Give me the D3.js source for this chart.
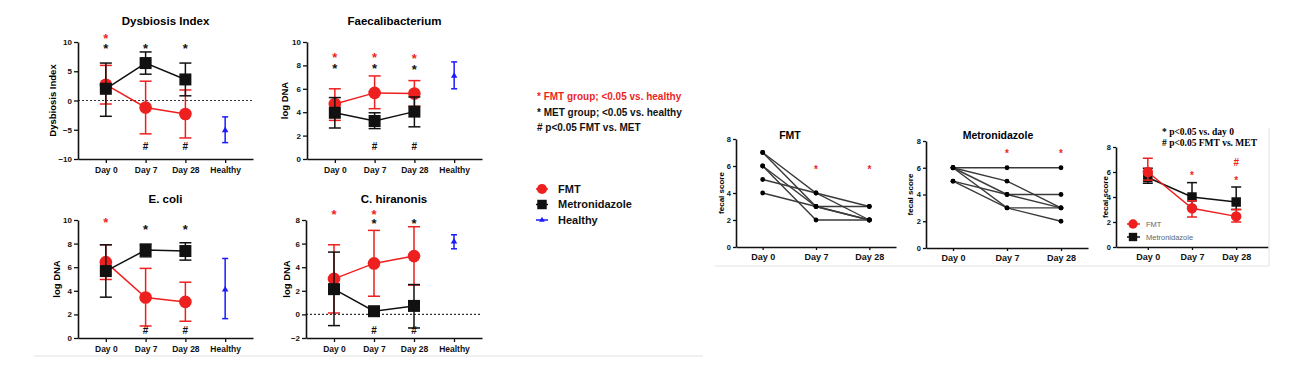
<!DOCTYPE html>
<html>
<head>
<meta charset="utf-8">
<script src="https://cdn.jsdelivr.net/npm/d3@7"></script>
<style>
body { margin: 0; background: #fff; }
svg text { font-family: "Liberation Sans", Arial, sans-serif; }
</style>
</head>
<body>
<script>
// ---- data ----
const leftCats = ['Day 0', 'Day 7', 'Day 28', 'Healthy'];
const days = ['Day 0', 'Day 7', 'Day 28'];

// each entry: [mean, lower, upper]
const dysFMT = [[2.7, -0.6, 6.0], [-1.2, -5.7, 3.3], [-2.3, -6.4, 1.8]];
const dysMET = [[2.0, -2.7, 6.4], [6.4, 4.5, 8.3], [3.6, 0.8, 6.4]];
const dysHealthy = [-5.1, -7.2, -2.8];

const faeFMT = [[4.7, 3.3, 6.0], [5.65, 4.3, 7.1], [5.6, 4.5, 6.7]];
const faeMET = [[3.95, 2.65, 5.25], [3.25, 2.6, 3.95], [4.05, 2.75, 5.3]];
const faeHealthy = [7.1, 6.0, 8.3];

const ecoFMT = [[6.43, 4.96, 7.9], [3.43, 1.02, 5.9], [3.06, 1.42, 4.73]];
const ecoMET = [[5.67, 3.46, 7.9], [7.45, 6.88, 7.96], [7.37, 6.6, 8.07]];
const ecoHealthy = [4.1, 1.64, 6.74];

const chiFMT = [[3.01, 0.12, 5.9], [4.32, 1.54, 7.12], [4.94, 2.48, 7.43]];
const chiMET = [[2.14, -0.95, 5.28], [0.27, 0.15, 0.4], [0.72, -1.15, 2.53]];
const chiHealthy = [6.16, 5.56, 6.75];

// significance marks: [category, y value, symbol, colour group]
const dysMarks = [['Day 0', 11.1, '*', 'fmt'], ['Day 0', 9.3, '*', 'met'], ['Day 7', 9.3, '*', 'met'], ['Day 28', 9.3, '*', 'met'], ['Day 7', -7.9, '#', 'met'], ['Day 28', -7.9, '#', 'met']];
const faeMarks = [['Day 0', 8.9, '*', 'fmt'], ['Day 7', 8.9, '*', 'fmt'], ['Day 28', 8.8, '*', 'fmt'], ['Day 0', 8.0, '*', 'met'], ['Day 7', 7.95, '*', 'met'], ['Day 28', 7.85, '*', 'met'], ['Day 7', 1.05, '#', 'met'], ['Day 28', 1.05, '#', 'met']];
const ecoMarks = [['Day 0', 10.06, '*', 'fmt'], ['Day 7', 9.4, '*', 'met'], ['Day 28', 9.4, '*', 'met'], ['Day 7', 0.65, '#', 'met'], ['Day 28', 0.65, '#', 'met']];
const chiMarks = [['Day 0', 8.7, '*', 'fmt'], ['Day 7', 8.7, '*', 'fmt'], ['Day 7', 7.95, '*', 'met'], ['Day 28', 7.95, '*', 'met'], ['Day 7', -1.35, '#', 'met'], ['Day 28', -1.35, '#', 'met']];

// fecal scores per dog (Day 0, Day 7, Day 28)
const fmtDogs = [[7, 4, 3], [7, 3, 2], [6, 3, 3], [6, 2, 2], [5, 4, 2], [4, 3, 2]];
const metDogs = [[6, 6, 6], [6, 5, 3], [6, 4, 4], [6, 3, 2], [5, 4, 3], [5, 3, 3]];
const fmtDogMarks = [['Day 7', 5.9, '*'], ['Day 28', 5.9, '*']];
const metDogMarks = [['Day 7', 7.2, '*'], ['Day 28', 7.2, '*']];

// fecal score summary: [mean, lower, upper]
const sumFMT = [[6.0, 5.35, 7.1], [3.1, 2.4, 3.7], [2.45, 2.0, 3.0]];
const sumMET = [[5.56, 5.1, 6.3], [4.0, 3.2, 5.15], [3.6, 3.0, 4.8]];
const sumMarks = [['Day 7', 5.9, '*'], ['Day 28', 6.75, '#'], ['Day 28', 5.5, '*']];

const legendNotes = ['* FMT group; <0.05 vs. healthy', '* MET group; <0.05 vs. healthy', '# p<0.05 FMT vs. MET'];
const legendGroups = ['FMT', 'Metronidazole', 'Healthy'];

// ---- drawing ----
const RED = '#ee1f1f', BLACK = '#111', BLUE = '#1a1aff';

const svg = d3.select('body').append('svg').attr('width', 1298).attr('height', 372);

function styleAxis(g, fs) {
  g.selectAll('.domain').attr('stroke', '#111').attr('stroke-width', 1.6);
  g.selectAll('.tick line').attr('stroke', '#111').attr('stroke-width', 1.3);
  g.selectAll('.tick text').attr('fill', '#111').attr('font-weight', 'bold').attr('font-size', fs)
    .style('font-family', '"Liberation Sans", Arial, sans-serif');
}

function addMark(g, cx, cy, sym, color, big, hashSize) {
  g.append('text')
    .attr('x', cx).attr('y', cy)
    .attr('dy', sym === '*' ? '0.56em' : '0.36em')
    .attr('text-anchor', 'middle')
    .attr('font-size', sym === '*' ? big : (hashSize || big - 3))
    .attr('font-weight', 'bold')
    .attr('fill', color)
    .text(sym);
}

function errGroup(g, x, y, vals, color, shape, size, cap) {
  g.append('path')
    .attr('d', d3.line().x((d, i) => x(days[i])).y(d => y(d[0]))(vals))
    .attr('fill', 'none').attr('stroke', color).attr('stroke-width', 1.5);
  vals.forEach((v, i) => {
    const cx = x(days[i]);
    g.append('line').attr('x1', cx).attr('x2', cx).attr('y1', y(v[1])).attr('y2', y(v[2]))
      .attr('stroke', color).attr('stroke-width', 1.5);
    [v[1], v[2]].forEach(e => {
      g.append('line').attr('x1', cx - cap).attr('x2', cx + cap).attr('y1', y(e)).attr('y2', y(e))
        .attr('stroke', color).attr('stroke-width', 1.5);
    });
    g.append('path')
      .attr('transform', 'translate(' + cx + ',' + y(v[0]) + ')')
      .attr('d', d3.symbol().type(shape).size(size)())
      .attr('fill', color);
  });
}

function leftPanel(p) {
  const g = svg.append('g');
  const x = d3.scalePoint().domain(leftCats).range([p.x0, p.x1]).padding(0.7);
  const y = d3.scaleLinear().domain(p.dom).range([p.yBot, p.yTop]);

  g.append('text').attr('x', (p.x0 + p.x1) / 2).attr('y', p.titleY)
    .attr('text-anchor', 'middle').attr('font-size', 11.5).attr('font-weight', 'bold').text(p.title);

  g.append('text')
    .attr('transform', 'translate(' + p.ylabX + ',' + (p.yTop + p.yBot) / 2 + ') rotate(-90)')
    .attr('text-anchor', 'middle').attr('dy', '0.35em')
    .attr('font-size', 9.5).attr('font-weight', 'bold').text(p.ylab);

  if (p.zero) {
    g.append('line').attr('x1', p.x0).attr('x2', p.x1).attr('y1', y(0)).attr('y2', y(0))
      .attr('stroke', '#333').attr('stroke-width', 1.2).attr('stroke-dasharray', '2,2');
  }

  g.append('g').attr('transform', 'translate(' + p.x0 + ',0)')
    .call(d3.axisLeft(y).tickValues(p.ticks).tickSize(4).tickPadding(2).tickSizeOuter(0))
    .call(a => styleAxis(a, 8));
  g.append('g').attr('transform', 'translate(0,' + p.yBot + ')')
    .call(d3.axisBottom(x).tickSize(4).tickPadding(4).tickSizeOuter(0))
    .call(a => styleAxis(a, 8.5));

  errGroup(g, x, y, p.fmt, RED, d3.symbolCircle, 125, 6);
  errGroup(g, x, y, p.met, BLACK, d3.symbolSquare, 144, 6);

  // healthy reference
  const hx = x('Healthy');
  const h = p.healthy;
  g.append('line').attr('x1', hx).attr('x2', hx).attr('y1', y(h[1])).attr('y2', y(h[2]))
    .attr('stroke', BLUE).attr('stroke-width', 1.5);
  [h[1], h[2]].forEach(e => {
    g.append('line').attr('x1', hx - 3).attr('x2', hx + 3).attr('y1', y(e)).attr('y2', y(e))
      .attr('stroke', BLUE).attr('stroke-width', 1.5);
  });
  g.append('path').attr('transform', 'translate(' + hx + ',' + y(h[0]) + ')')
    .attr('d', d3.symbol().type(d3.symbolTriangle).size(18)()).attr('fill', BLUE);

  p.marks.forEach(m => addMark(g, x(m[0]), y(m[1]), m[2], m[3] === 'fmt' ? RED : BLACK, 13));
}

leftPanel({ title: 'Dysbiosis Index', ylab: 'Dysbiosis Index', x0: 78, x1: 253, yTop: 42, yBot: 159, titleY: 25,
  ylabX: 53, dom: [-10, 10], ticks: [-10, -5, 0, 5, 10], zero: true,
  fmt: dysFMT, met: dysMET, healthy: dysHealthy, marks: dysMarks });
leftPanel({ title: 'Faecalibacterium', ylab: 'log DNA', x0: 307, x1: 482, yTop: 42, yBot: 159, titleY: 25,
  ylabX: 285, dom: [0, 10], ticks: [0, 2, 4, 6, 8, 10], zero: false,
  fmt: faeFMT, met: faeMET, healthy: faeHealthy, marks: faeMarks });
leftPanel({ title: 'E. coli', ylab: 'log DNA', x0: 78, x1: 253, yTop: 220, yBot: 338, titleY: 203,
  ylabX: 57, dom: [0, 10], ticks: [0, 2, 4, 6, 8, 10], zero: false,
  fmt: ecoFMT, met: ecoMET, healthy: ecoHealthy, marks: ecoMarks });
leftPanel({ title: 'C. hiranonis', ylab: 'log DNA', x0: 306, x1: 482, yTop: 220, yBot: 338, titleY: 203,
  ylabX: 287, dom: [-2, 8], ticks: [-2, 0, 2, 4, 6, 8], zero: true,
  fmt: chiFMT, met: chiMET, healthy: chiHealthy, marks: chiMarks });

// notes legend
legendNotes.forEach((t, i) => {
  svg.append('text').attr('x', 537).attr('y', 100 + i * 15.5)
    .attr('font-size', 10).attr('font-weight', 'bold')
    .attr('fill', i === 0 ? RED : BLACK).text(t);
});

// group legend
const legShapes = [d3.symbolCircle, d3.symbolSquare, d3.symbolTriangle];
const legSizes = [80, 90, 14];
const legColors = [RED, BLACK, BLUE];
legendGroups.forEach((t, i) => {
  const ly = 189 + i * 15.5;
  svg.append('line').attr('x1', 536).attr('x2', 548).attr('y1', ly).attr('y2', ly)
    .attr('stroke', legColors[i]).attr('stroke-width', 1.5);
  svg.append('path').attr('transform', 'translate(542,' + ly + ')')
    .attr('d', d3.symbol().type(legShapes[i]).size(legSizes[i])()).attr('fill', legColors[i]);
  svg.append('text').attr('x', 558).attr('y', ly).attr('dy', '0.36em')
    .attr('font-size', 11).attr('font-weight', 'bold').attr('fill', '#111').text(t);
});

function scoreAxes(g, p, x, y) {
  g.append('g').attr('transform', 'translate(' + p.x0 + ',0)')
    .call(d3.axisLeft(y).tickValues([0, 2, 4, 6, 8]).tickSize(3).tickPadding(2).tickSizeOuter(0))
    .call(a => styleAxis(a, 7.5));
  g.append('g').attr('transform', 'translate(0,' + p.yBot + ')')
    .call(d3.axisBottom(x).tickSize(3).tickPadding(4).tickSizeOuter(0))
    .call(a => styleAxis(a, 9));
  g.append('text')
    .attr('transform', 'translate(' + p.ylabX + ',' + (p.yTop + p.yBot) / 2 + ') rotate(-90)')
    .attr('text-anchor', 'middle').attr('dy', '0.35em')
    .attr('font-size', 8).attr('font-weight', 'bold').text('fecal score');
}

function dogPanel(p) {
  const g = svg.append('g');
  const x = d3.scalePoint().domain(days).range([p.x0, p.x1]).padding(0.5);
  const y = d3.scaleLinear().domain([0, 8]).range([p.yBot, p.yTop]);
  scoreAxes(g, p, x, y);
  g.append('text').attr('x', p.titleX).attr('y', p.titleY).attr('text-anchor', 'middle')
    .attr('font-size', 10.5).attr('font-weight', 'bold').text(p.title);
  const line = d3.line().x((d, i) => x(days[i])).y(d => y(d));
  p.dogs.forEach(d => {
    g.append('path').attr('d', line(d)).attr('fill', 'none').attr('stroke', '#3a3a3a').attr('stroke-width', 1.4);
  });
  p.dogs.forEach(d => d.forEach((v, i) => {
    g.append('circle').attr('cx', x(days[i])).attr('cy', y(v)).attr('r', 2.4).attr('fill', '#000');
  }));
  p.marks.forEach(m => addMark(g, x(m[0]), y(m[1]), m[2], RED, 10));
}

dogPanel({ title: 'FMT', titleX: 790, titleY: 139, x0: 736, x1: 896, yTop: 139, yBot: 247, ylabX: 721,
  dogs: fmtDogs, marks: fmtDogMarks });
dogPanel({ title: 'Metronidazole', titleX: 998, titleY: 139, x0: 926, x1: 1088, yTop: 141, yBot: 248, ylabX: 910,
  dogs: metDogs, marks: metDogMarks });

// summary panel
(function () {
  const p = { x0: 1116, x1: 1268, yTop: 147, yBot: 247, ylabX: 1105 };
  const g = svg.append('g');
  const x = d3.scalePoint().domain(days).range([p.x0, p.x1]).padding(0.72);
  const y = d3.scaleLinear().domain([0, 8]).range([p.yBot, p.yTop]);
  scoreAxes(g, p, x, y);
  errGroup(g, x, y, sumMET, BLACK, d3.symbolSquare, 90, 5);
  errGroup(g, x, y, sumFMT, RED, d3.symbolCircle, 85, 5);
  sumMarks.forEach(m => addMark(g, x(m[0]), y(m[1]), m[2], RED, 10, 10));
  ['* p<0.05 vs. day 0', '# p<0.05 FMT vs. MET'].forEach((t, i) => {
    g.append('text').attr('x', 1162).attr('y', 135 + i * 11)
      .attr('font-size', 9.5).attr('font-weight', 'bold')
      .style('font-family', '"Liberation Serif", "Times New Roman", serif').text(t);
  });
  const leg = [['FMT', RED, d3.symbolCircle, 70], ['Metronidazole', BLACK, d3.symbolSquare, 70]];
  leg.forEach((l, i) => {
    const ly = 224 + i * 13;
    g.append('line').attr('x1', 1127).attr('x2', 1140).attr('y1', ly).attr('y2', ly)
      .attr('stroke', l[1]).attr('stroke-width', 1.5);
    g.append('path').attr('transform', 'translate(1133,' + ly + ')')
      .attr('d', d3.symbol().type(l[2]).size(l[3])()).attr('fill', l[1]);
    g.append('text').attr('x', 1146).attr('y', ly).attr('dy', '0.35em')
      .attr('font-size', 7.5).attr('fill', '#666').text(l[0]);
  });
})();

// faint frame lines from the original figure
svg.append('line').attr('x1', 34).attr('x2', 703).attr('y1', 356).attr('y2', 356).attr('stroke', '#e2e2e2').attr('stroke-width', 1);
svg.append('line').attr('x1', 715).attr('x2', 1269).attr('y1', 266).attr('y2', 266).attr('stroke', '#e2e2e2').attr('stroke-width', 1);
svg.append('line').attr('x1', 1269).attr('x2', 1269).attr('y1', 128).attr('y2', 266).attr('stroke', '#e2e2e2').attr('stroke-width', 1);
</script>
</body>
</html>
